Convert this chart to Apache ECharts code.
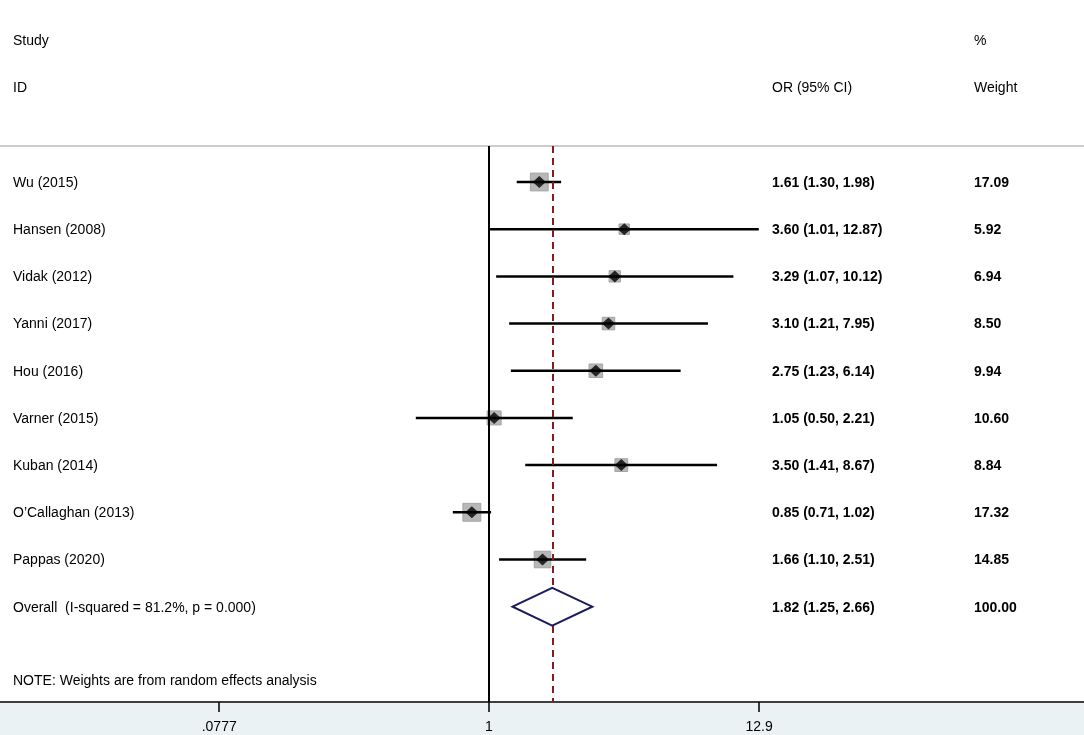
<!DOCTYPE html>
<html>
<head>
<meta charset="utf-8">
<script src="https://cdn.jsdelivr.net/npm/echarts@6/dist/echarts.min.js"></script>
<style>
html,body{margin:0;padding:0;background:#fff;}
#main{width:1084px;height:735px;}
</style>
</head>
<body>
<div id="main"></div>
<script>
// ---- data ----
const studies = ["Wu (2015)", "Hansen (2008)", "Vidak (2012)", "Yanni (2017)", "Hou (2016)",
  "Varner (2015)", "Kuban (2014)", "O\u2019Callaghan (2013)", "Pappas (2020)"];
const orValues = [1.61, 3.60, 3.29, 3.10, 2.75, 1.05, 3.50, 0.85, 1.66];
const ciLow    = [1.30, 1.01, 1.07, 1.21, 1.23, 0.50, 1.41, 0.71, 1.10];
const ciHigh   = [1.98, 12.87, 10.12, 7.95, 6.14, 2.21, 8.67, 1.02, 2.51];
const weights  = [17.09, 5.92, 6.94, 8.50, 9.94, 10.60, 8.84, 17.32, 14.85];
const overallLabel = "Overall  (I-squared = 81.2%, p = 0.000)";
const overallOR = 1.82, overallLow = 1.25, overallHigh = 2.66, overallWeight = 100.00;
const tickValues = [0.0777, 1, 12.9];
const tickLabels = [".0777", "1", "12.9"];
const headerTop = ["Study", "", "%"];
const headerBottom = ["ID", "OR (95% CI)", "Weight"];
const noteText = "NOTE: Weights are from random effects analysis";

// ---- layout helpers ----
const FONT = "Arial, 'Liberation Sans', sans-serif";
const colX = [13, 772, 974];
const xMin = (0 - 489) / 105.6, xMax = (1084 - 489) / 105.6;
const ln = Math.log;
const fmt2 = v => v.toFixed(2);

const overallRow = studies.length;
const textRows = [];
textRows.push({row: -3, cols: headerTop, bold: false});
textRows.push({row: -2, cols: headerBottom, bold: false});
studies.forEach((s, i) => {
  textRows.push({row: i, cols: [s, fmt2(orValues[i]) + " (" + fmt2(ciLow[i]) + ", " + fmt2(ciHigh[i]) + ")", fmt2(weights[i])], bold: true});
});
textRows.push({row: overallRow, cols: [overallLabel, fmt2(overallOR) + " (" + fmt2(overallLow) + ", " + fmt2(overallHigh) + ")", fmt2(overallWeight)], bold: true});
textRows.push({row: 10.55, cols: [noteText, "", ""], bold: false});

const tickLn = tickValues.map(v => ln(v));

const chart = echarts.init(document.getElementById('main'), null, {renderer: 'canvas'});
const option = {
  animation: false,
  backgroundColor: '#fff',
  graphic: [{
    type: 'rect', left: 0, top: 703, z: -100,
    shape: {width: 1084, height: 32},
    style: {fill: '#EAF2F3'}
  }],
  grid: {left: 0, right: 0, top: 146, bottom: 33, containLabel: false},
  xAxis: [{
    type: 'value', min: xMin, max: xMax, position: 'bottom',
    axisLine: {onZero: false, lineStyle: {color: '#000', width: 1.5}},
    splitLine: {show: false},
    axisTick: {show: true, customValues: tickLn, length: 10, lineStyle: {color: '#000', width: 1.5}},
    axisLabel: {
      customValues: tickLn, fontSize: 14, fontFamily: FONT, color: '#000', margin: 18,
      formatter: v => {
        for (let k = 0; k < tickLn.length; k++) if (Math.abs(v - tickLn[k]) < 1e-6) return tickLabels[k];
        return '';
      }
    }
  }, {
    type: 'value', min: xMin, max: xMax, position: 'top',
    axisLine: {show: true, onZero: false, lineStyle: {color: '#bbbbbb', width: 1.5}},
    axisTick: {show: false}, axisLabel: {show: false}, splitLine: {show: false}
  }],
  yAxis: {type: 'value', inverse: true, min: -0.763, max: 11.02, show: false},
  series: [
    { // weight boxes
      type: 'custom', z: 2,
      data: orValues.map((v, i) => [ln(v), i, weights[i]]),
      renderItem: (params, api) => {
        const c = api.coord([api.value(0), api.value(1)]);
        const s = 4.3 * Math.sqrt(api.value(2));
        return {type: 'rect', shape: {x: c[0] - s / 2, y: c[1] - s / 2, width: s, height: s},
          style: {fill: '#b7b7b7', stroke: '#a5a5a5', lineWidth: 1}};
      }
    },
    { // CI lines
      type: 'custom', z: 3,
      data: ciLow.map((v, i) => [ln(v), ln(ciHigh[i]), i]),
      renderItem: (params, api) => {
        const a = api.coord([api.value(0), api.value(2)]);
        const b = api.coord([api.value(1), api.value(2)]);
        return {type: 'line', shape: {x1: a[0], y1: a[1], x2: b[0], y2: b[1]},
          style: {stroke: '#000', lineWidth: 2.5}};
      }
    },
    { // point estimates
      type: 'scatter', z: 4,
      symbol: 'diamond', symbolSize: [13, 12],
      itemStyle: {color: '#000'},
      data: orValues.map((v, i) => [ln(v), i]),
      markLine: {
        silent: true, symbol: 'none', label: {show: false},
        data: [
          {xAxis: 0, lineStyle: {color: '#000', width: 2, type: 'solid'}},
          {xAxis: ln(overallOR), lineStyle: {color: '#8B1A1A', width: 2, type: [7, 5]}}
        ]
      }
    },
    { // overall diamond
      type: 'custom', z: 5,
      data: [[ln(overallLow), ln(overallOR), ln(overallHigh), overallRow]],
      renderItem: (params, api) => {
        const r = api.value(3);
        const p = [
          api.coord([api.value(0), r]),
          api.coord([api.value(1), r - 0.4]),
          api.coord([api.value(2), r]),
          api.coord([api.value(1), r + 0.4])
        ];
        return {type: 'polygon', shape: {points: p},
          style: {fill: '#fff', stroke: '#1c1c5c', lineWidth: 2}};
      }
    },
    { // text columns
      type: 'custom', z: 10, clip: false,
      data: textRows.map(t => [0, t.row]),
      renderItem: (params, api) => {
        const t = textRows[params.dataIndex];
        const y = api.coord([0, t.row])[1] + 1;
        const children = [];
        t.cols.forEach((txt, k) => {
          if (!txt) return;
          children.push({type: 'text', style: {
            x: colX[k], y: y, text: txt, fill: '#000',
            font: ((t.bold && k > 0) ? 'bold ' : '') + '14px ' + FONT,
            textAlign: 'left', textVerticalAlign: 'middle'
          }});
        });
        return {type: 'group', children: children};
      }
    }
  ]
};
chart.setOption(option);
</script>
</body>
</html>
